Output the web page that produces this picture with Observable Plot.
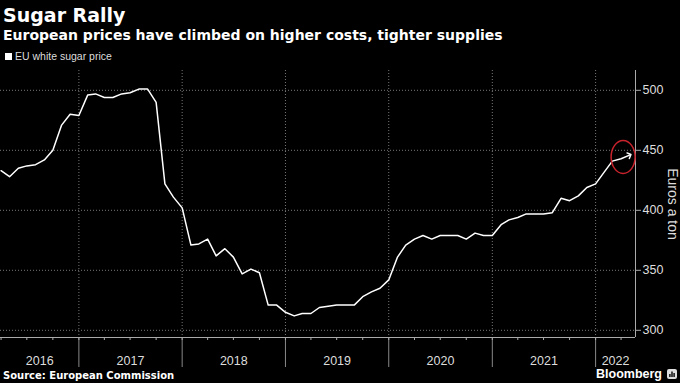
<!DOCTYPE html>
<html>
<head>
<meta charset="utf-8">
<script src="https://cdn.jsdelivr.net/npm/d3@7"></script>
<script src="https://cdn.jsdelivr.net/npm/@observablehq/plot@0.6"></script>
<style>
  html, body { margin: 0; padding: 0; background: #000; }
  body { width: 680px; height: 383px; overflow: hidden; position: relative; color: #fff; font-family: "Liberation Sans", Arial, sans-serif; }
  .abs { position: absolute; white-space: nowrap; line-height: 1; }
  #title { left: 3px; top: 4px; font: bold 19px "DejaVu Sans", sans-serif; }
  #subtitle { left: 3px; top: 27px; font: bold 14px "DejaVu Sans", sans-serif; }
  #legend { left: 5px; top: 51px; font-size: 10.5px; color: #ddd; display: flex; align-items: center; }
  #legend .sw { width: 7px; height: 7px; background: #fff; margin-right: 3px; }
  #chart { position: absolute; left: 0; top: 62px; }
  #source { left: 3px; top: 370px; font: bold 10px "DejaVu Sans", sans-serif; color: #fff; }
  #brand { right: 3px; top: 367px; font: bold 12.5px "Liberation Sans", Arial, sans-serif; color: #fff; display: flex; align-items: center; }
  #brand svg { margin-left: 5px; }
</style>
</head>
<body>
<div class="abs" id="title">Sugar Rally</div>
<div class="abs" id="subtitle">European prices have climbed on higher costs, tighter supplies</div>
<div class="abs" id="legend"><span class="sw"></span>EU white sugar price</div>
<div id="chart"></div>
<div class="abs" id="source">Source: European Commission</div>
<div class="abs" id="brand">Bloomberg<svg width="10" height="10" viewBox="0 0 10 10"><rect x="0" y="0" width="10" height="10" rx="2" fill="#ddd"/><rect x="2.2" y="5" width="1.4" height="3" fill="#000"/><rect x="4.3" y="2.5" width="1.4" height="5.5" fill="#000"/><rect x="6.4" y="4" width="1.4" height="4" fill="#000"/></svg></div>
<script>
// Monthly EU white sugar price (euros a ton), April 2016 – May 2022
const months = [
  "2016-04","2016-05","2016-06","2016-07","2016-08","2016-09","2016-10","2016-11","2016-12",
  "2017-01","2017-02","2017-03","2017-04","2017-05","2017-06","2017-07","2017-08","2017-09","2017-10","2017-11","2017-12",
  "2018-01","2018-02","2018-03","2018-04","2018-05","2018-06","2018-07","2018-08","2018-09","2018-10","2018-11","2018-12",
  "2019-01","2019-02","2019-03","2019-04","2019-05","2019-06","2019-07","2019-08","2019-09","2019-10","2019-11","2019-12",
  "2020-01","2020-02","2020-03","2020-04","2020-05","2020-06","2020-07","2020-08","2020-09","2020-10","2020-11","2020-12",
  "2021-01","2021-02","2021-03","2021-04","2021-05","2021-06","2021-07","2021-08","2021-09","2021-10","2021-11","2021-12",
  "2022-01","2022-02","2022-03","2022-04","2022-05"
];
const prices = [
  433, 428, 435, 437, 438, 442, 450, 471, 480,
  479, 496, 497, 494, 494, 497, 498, 501, 501, 490, 422, 411,
  402, 371, 372, 376, 362, 368, 361, 347, 351, 348, 321, 321,
  315, 312, 314, 314, 319, 320, 321, 321, 321, 328, 332, 335,
  342, 361, 371, 376, 379, 376, 379, 379, 379, 376, 381, 379,
  379, 388, 392, 394, 397, 397, 397, 398, 410, 408, 412, 419,
  422, 432, 441, 443, 446
];
const yearLabels = ["2016","2017","2018","2019","2020","2021","2022"];
const yTicks = [300, 350, 400, 450, 500];
const xDomain = ["2016-03-30", "2022-05-22"];
const yDomain = [294, 516.5];
const axisTitle = "Euros a ton";
const highlight = {month: "2022-04-10", price: 444};

const data = months.map((m, i) => ({date: new Date(m + "-01"), price: prices[i]}));
const x0 = new Date(xDomain[0]), x1 = new Date(xDomain[1]);
const yearStarts = yearLabels.slice(1).map(y => new Date(y + "-01-01"));
const quarterStarts = [];
for (const y of yearLabels) for (const q of ["01","04","07","10"]) {
  const d = new Date(`${y}-${q}-01`);
  if (d > x0 && d < x1) quarterStarts.push(d);
}
const labelPos = yearLabels.map(y => {
  const a = Math.max(+new Date(`${y}-01-01`), +x0);
  const b = Math.min(+new Date(`${+y + 1}-01-01`), +x1);
  return {label: y, date: new Date((a + b) / 2)};
});

const chart = Plot.plot({
  width: 680,
  height: 306,
  marginTop: 8,
  marginBottom: 31,
  marginLeft: 0,
  marginRight: 45,
  style: {background: "transparent", color: "#ccc", fontFamily: "Liberation Sans, Arial, sans-serif", fontSize: "12.5px", overflow: "visible"},
  x: {type: "utc", domain: [x0, x1]},
  y: {domain: yDomain},
  marks: [
    Plot.gridY(yTicks, {stroke: "#777", strokeOpacity: 1, strokeDasharray: "1,2"}),
    Plot.gridX(yearStarts, {stroke: "#777", strokeOpacity: 1, strokeDasharray: "1,2"}),
    Plot.axisX(yearStarts, {tickSize: 30, tickFormat: () => "", stroke: "#888", label: null}),
    Plot.axisX(quarterStarts, {tickSize: 3, tickFormat: () => "", stroke: "#aaa", label: null}),
    Plot.text(labelPos, {x: "date", text: "label", frameAnchor: "bottom", dy: 23, lineAnchor: "middle", fill: "#ddd", fontSize: 12.5}),
    Plot.ruleY([yDomain[0]], {stroke: "#aaa"}),
    Plot.ruleX([x1], {stroke: "#aaa"}),
    Plot.axisY(yTicks, {anchor: "right", tickSize: 5, tickPadding: 2, stroke: "#aaa", fill: "#ddd", label: null, fontSize: 12.5}),
    Plot.text([axisTitle], {frameAnchor: "right", rotate: 90, dx: 37, textAnchor: "middle", lineAnchor: "middle", fill: "#ddd", fontSize: 14}),
    Plot.line(data, {x: "date", y: "price", stroke: "#fff", strokeWidth: 1.5, markerEnd: "arrow"})
  ]
});
document.getElementById("chart").appendChild(chart);

// red highlight ellipse placed through the chart's scales
const sx = chart.scale("x"), sy = chart.scale("y");
d3.select(chart).append("ellipse")
  .attr("cx", sx.apply(new Date(highlight.month)))
  .attr("cy", sy.apply(highlight.price))
  .attr("rx", 12).attr("ry", 16.5)
  .attr("fill", "none").attr("stroke", "#c8232c").attr("stroke-width", 1.5);
</script>
</body>
</html>
